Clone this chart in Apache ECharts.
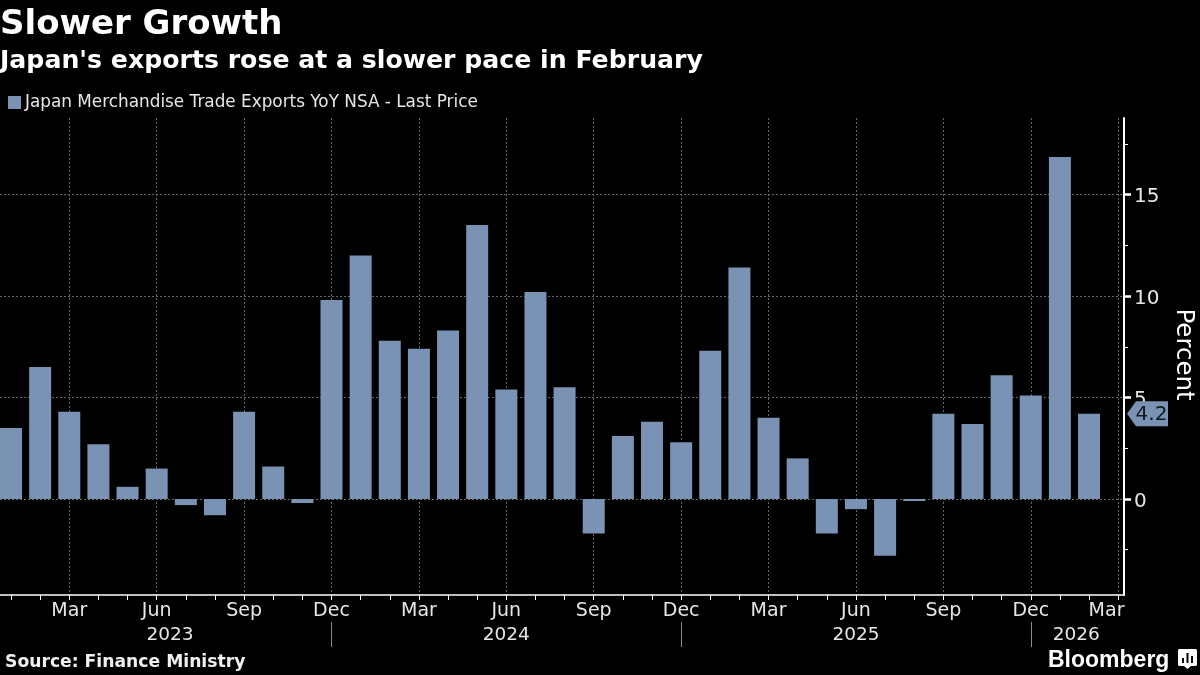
<!DOCTYPE html>
<html><head><meta charset="utf-8">
<style>html,body{margin:0;padding:0;background:#000}#c{width:1200px;height:675px}</style>
<script src="https://cdn.jsdelivr.net/npm/echarts@6/dist/echarts.min.js"></script>
</head><body><div id="c"></div>
<script>
const months = ['Jan','Feb','Mar','Apr','May','Jun','Jul','Aug','Sep','Oct','Nov','Dec'];
const exportsYoY = [3.5,6.5,4.3,2.7,0.6,1.5,-0.3,-0.8,4.3,1.6,-0.2,9.8,
  12.0,7.8,7.4,8.3,13.5,5.4,10.2,5.5,-1.7,3.1,3.8,2.8,
  7.3,11.4,4.0,2.0,-1.7,-0.5,-2.8,-0.1,4.2,3.7,6.1,5.1,
  16.85,4.2];
const yearLabels = {3.46:'2023',15:'2024',27:'2025',34.56:'2026'};
const yearSeparators = [9,21,33];
const yLabels = [0,5,10,15];
const yMinorTicks = [-2.5,2.5,7.5,12.5,17.5];
const lastValue = 4.2;
const seriesName = 'Japan Merchandise Trade Exports YoY NSA - Last Price';

// x position: March 2023 = 0, one unit per month
const monthName = v => months[((v + 2) % 12 + 12) % 12];
const quarterTicks = []; for (let v = 0; v <= 36; v += 3) quarterTicks.push(v);
const labelledQuarters = quarterTicks.slice(0, -1);
const lastLabelPos = 35.6; // final "Mar" label is nudged left of its tick, as in the reference
const monthTicks = []; for (let v = -2; v <= 36; v += 1) monthTicks.push(v);
const barData = exportsYoY.map((y, i) => [i - 2, y]);

const FONT = '"DejaVu Sans"';
const TXT = '#e6e6e6';
const BAR = '#7a92b3';
const GRID = '#666666';
const xMin = -2.378, xMax = 36.2, yMin = -4.73, yMax = 18.77;
const baseX = {type:'value', min:xMin, max:xMax, position:'bottom'};

const chart = echarts.init(document.getElementById('c'), null, {renderer:'canvas'});
chart.setOption({
  backgroundColor:'#000',
  animation:false,
  textStyle:{fontFamily:FONT},
  title:[
    {text:'Slower Growth', left:0, top:8, padding:0, textStyle:{color:'#fff',fontFamily:FONT,fontWeight:'bold',fontSize:34}},
    {text:"Japan's exports rose at a slower pace in February", left:0, top:49, padding:0, textStyle:{color:'#fff',fontFamily:FONT,fontWeight:'bold',fontSize:25.2}},
    {text:'Source: Finance Ministry', left:5, top:654, padding:0, textStyle:{color:'#f0f0f0',fontFamily:FONT,fontWeight:'bold',fontSize:17.2}},
    {text:'Bloomberg', left:1048, top:649, padding:0, textStyle:{color:'#fff',fontFamily:'"Liberation Sans"',fontWeight:'bold',fontSize:23}}
  ],
  legend:{left:8,top:94,padding:0,itemWidth:13,itemHeight:13,itemGap:5,icon:'rect',
    textStyle:{color:TXT,fontFamily:FONT,fontSize:16.85,padding:[0,0,0,-1]},data:[seriesName]},
  grid:{left:0,right:76,top:118,bottom:80,containLabel:false,outerBoundsMode:'none'},
  xAxis:[
    {...baseX, interval:3,
      axisLine:{show:true,onZero:false,lineStyle:{color:'#fff',width:1.5}},
      axisTick:{show:true,customValues:quarterTicks,length:5,lineStyle:{color:'#fff'}},
      axisLabel:{show:true,customValues:labelledQuarters,color:TXT,fontFamily:FONT,fontSize:19,margin:7,formatter:v=>monthName(v)},
      splitLine:{show:true,lineStyle:{color:GRID,type:[2,2],width:1}}},
    {...baseX,
      axisLine:{show:false,onZero:false},
      axisTick:{show:true,customValues:monthTicks,length:5,lineStyle:{color:'#fff'}},
      axisLabel:{show:true,customValues:[lastLabelPos],color:TXT,fontFamily:FONT,fontSize:19,margin:7,formatter:()=>monthName(36)},
      splitLine:{show:false}},
    {...baseX, offset:27,
      axisLine:{show:false,onZero:false},
      axisTick:{show:true,customValues:yearSeparators,length:25,lineStyle:{color:'#8c8c8c'}},
      axisLabel:{show:true,customValues:Object.keys(yearLabels).map(Number),color:TXT,fontFamily:FONT,fontSize:18.5,margin:4,formatter:v=>yearLabels[v]},
      splitLine:{show:false}}
  ],
  yAxis:[
    {type:'value',position:'right',min:yMin,max:yMax,interval:5,
      name:'Percent',nameLocation:'middle',nameRotate:-90,nameGap:47,
      nameTextStyle:{color:'#fff',fontFamily:FONT,fontSize:24.5,padding:[0,4,0,0]},
      axisLine:{show:true,onZero:false,lineStyle:{color:'#fff',width:2}},
      axisTick:{show:true,customValues:yLabels,length:7,lineStyle:{color:'#fff',width:2.5}},
      axisLabel:{show:true,customValues:yLabels,color:TXT,fontFamily:FONT,margin:10,
        formatter:v=>`{a|${v}}`,rich:{a:{color:TXT,fontFamily:FONT,fontSize:20,padding:[5,0,0,0]}}},
      splitLine:{show:true,lineStyle:{color:GRID,type:[2,2],width:1}}},
    {type:'value',position:'right',min:yMin,max:yMax,
      axisLine:{show:false,onZero:false},
      axisTick:{show:true,customValues:yMinorTicks,length:4,lineStyle:{color:'#fff'}},
      axisLabel:{show:false},splitLine:{show:false}}
  ],
  series:[{
    name:seriesName,type:'bar',xAxisIndex:0,yAxisIndex:0,data:barData,barWidth:22,
    itemStyle:{color:BAR},
    markPoint:{silent:true,symbol:'path://M0 12.5 L9 0 L41 0 L41 25 L9 25 Z',symbolKeepAspect:false,symbolSize:[41,25],symbolOffset:[23.5,0],
      label:{show:true,color:'#101820',fontFamily:FONT,fontSize:20,offset:[4,1],formatter:'{c}'},
      itemStyle:{color:BAR},
      data:[{coord:[xMax,lastValue],value:lastValue}]}
  }],
  graphic:[{type:'group',left:1178,top:649,silent:true,children:[
    {type:'polygon',shape:{points:[[1,0],[18,0],[19,1],[19,16],[18,17],[13,17],[9.5,20],[6,17],[1,17],[0,16],[0,1]]},style:{fill:'#fff'}},
    {type:'rect',shape:{x:4,y:9,width:2,height:5},style:{fill:'#000'}},
    {type:'rect',shape:{x:8.5,y:4,width:2,height:10},style:{fill:'#000'}},
    {type:'rect',shape:{x:13,y:7,width:2,height:7},style:{fill:'#000'}}
  ]}]
});
</script></body></html>
